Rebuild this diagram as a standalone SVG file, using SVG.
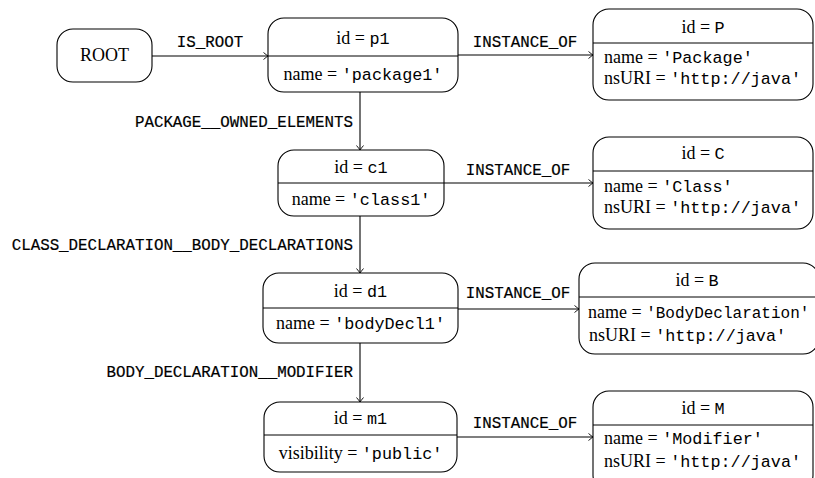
<svg xmlns="http://www.w3.org/2000/svg" width="815" height="478" viewBox="0 0 815 478">
<style>
.box{fill:#fff;stroke:#000;stroke-width:1.1}
.div{stroke:#000;stroke-width:1}
.rm{font-family:"Liberation Serif","DejaVu Serif",serif;font-size:18px;fill:#000}
.tt{font-family:"Liberation Mono","DejaVu Sans Mono",monospace;font-size:16.8px}
.c{text-anchor:middle}
.edge{fill:none;stroke:#000;stroke-width:1.1}
.lbl{font-family:"Liberation Mono","DejaVu Sans Mono",monospace;font-size:15.8px;fill:#000;stroke:#000;stroke-width:0.2}
</style>
<defs>
<marker id="arr" viewBox="-6 -5 8 10" markerWidth="8" markerHeight="10" refX="0" refY="0" orient="auto" markerUnits="userSpaceOnUse">
<path d="M -4.5 -3.5 Q -1.5 -1 0 0 Q -1.5 1 -4.5 3.5" fill="none" stroke="#000" stroke-width="0.9"/>
</marker>
</defs>
<g id="connectors">
<line class="edge" x1="152" y1="56" x2="268" y2="56" marker-end="url(#arr)"/>
<text class="lbl c" x="210" y="47">IS_ROOT</text>
<line class="edge" x1="458" y1="55" x2="593" y2="55" marker-end="url(#arr)"/>
<text class="lbl c" x="525" y="47">INSTANCE_OF</text>
<line class="edge" x1="360" y1="92" x2="360" y2="150" marker-end="url(#arr)"/>
<text class="lbl" x="353" y="127" text-anchor="end">PACKAGE__OWNED_ELEMENTS</text>
<line class="edge" x1="444" y1="183" x2="593" y2="183" marker-end="url(#arr)"/>
<text class="lbl c" x="518" y="175">INSTANCE_OF</text>
<line class="edge" x1="360" y1="216" x2="360" y2="273" marker-end="url(#arr)"/>
<text class="lbl" x="353" y="250" text-anchor="end">CLASS_DECLARATION__BODY_DECLARATIONS</text>
<line class="edge" x1="458" y1="309" x2="579" y2="309" marker-end="url(#arr)"/>
<text class="lbl c" x="518" y="298">INSTANCE_OF</text>
<line class="edge" x1="360" y1="343" x2="360" y2="402" marker-end="url(#arr)"/>
<text class="lbl" x="353" y="377" text-anchor="end">BODY_DECLARATION__MODIFIER</text>
<line class="edge" x1="457" y1="437" x2="593" y2="437" marker-end="url(#arr)"/>
<text class="lbl c" x="525" y="428">INSTANCE_OF</text>
</g>
<g id="ROOT">
<rect class="box" x="57" y="29" width="95" height="53" rx="16"/>
<text class="rm c" x="104.5" y="61">ROOT</text>
</g>
<g id="p1">
<rect class="box" x="268" y="18" width="190" height="74" rx="16"/>
<line class="div" x1="268" y1="56" x2="458" y2="56"/>
<text class="rm c" x="363" y="44">id = <tspan class="tt">p1</tspan></text>
<text class="rm c" x="363" y="80">name = <tspan class="tt">'package1'</tspan></text>
</g>
<g id="P">
<rect class="box" x="593" y="9" width="220" height="91" rx="16"/>
<line class="div" x1="593" y1="43" x2="813" y2="43"/>
<text class="rm c" x="703" y="33">id = <tspan class="tt">P</tspan></text>
<text class="rm" x="604" y="63">name = <tspan class="tt">'Package'</tspan></text>
<text class="rm" x="604" y="84">nsURI = <tspan class="tt">'http://java'</tspan></text>
</g>
<g id="c1">
<rect class="box" x="278" y="150" width="166" height="66" rx="16"/>
<line class="div" x1="278" y1="183" x2="444" y2="183"/>
<text class="rm c" x="361" y="173">id = <tspan class="tt">c1</tspan></text>
<text class="rm c" x="361" y="205">name = <tspan class="tt">'class1'</tspan></text>
</g>
<g id="C">
<rect class="box" x="593" y="137" width="220" height="92" rx="16"/>
<line class="div" x1="593" y1="171" x2="813" y2="171"/>
<text class="rm c" x="703" y="159">id = <tspan class="tt">C</tspan></text>
<text class="rm" x="604" y="192">name = <tspan class="tt">'Class'</tspan></text>
<text class="rm" x="604" y="213">nsURI = <tspan class="tt">'http://java'</tspan></text>
</g>
<g id="d1">
<rect class="box" x="263" y="273" width="195" height="70" rx="16"/>
<line class="div" x1="263" y1="308" x2="458" y2="308"/>
<text class="rm c" x="360.5" y="297">id = <tspan class="tt">d1</tspan></text>
<text class="rm c" x="360.5" y="329">name = <tspan class="tt">'bodyDecl1'</tspan></text>
</g>
<g id="B">
<rect class="box" x="579" y="263" width="240" height="91" rx="16"/>
<line class="div" x1="579" y1="297" x2="815" y2="297"/>
<text class="rm c" x="697" y="286">id = <tspan class="tt">B</tspan></text>
<text class="rm" x="588" y="318">name = <tspan class="tt" style="font-size:16px">'BodyDeclaration'</tspan></text>
<text class="rm" x="589" y="341">nsURI = <tspan class="tt">'http://java'</tspan></text>
</g>
<g id="m1">
<rect class="box" x="264" y="402" width="193" height="70" rx="16"/>
<line class="div" x1="264" y1="435" x2="457" y2="435"/>
<text class="rm c" x="360.5" y="424">id = <tspan class="tt">m1</tspan></text>
<text class="rm c" x="360.5" y="459">visibility = <tspan class="tt">'public'</tspan></text>
</g>
<g id="M">
<rect class="box" x="593" y="391" width="220" height="100" rx="16"/>
<line class="div" x1="593" y1="425" x2="813" y2="425"/>
<text class="rm c" x="703" y="414">id = <tspan class="tt">M</tspan></text>
<text class="rm" x="604" y="444">name = <tspan class="tt">'Modifier'</tspan></text>
<text class="rm" x="604" y="467">nsURI = <tspan class="tt">'http://java'</tspan></text>
</g>
</svg>
